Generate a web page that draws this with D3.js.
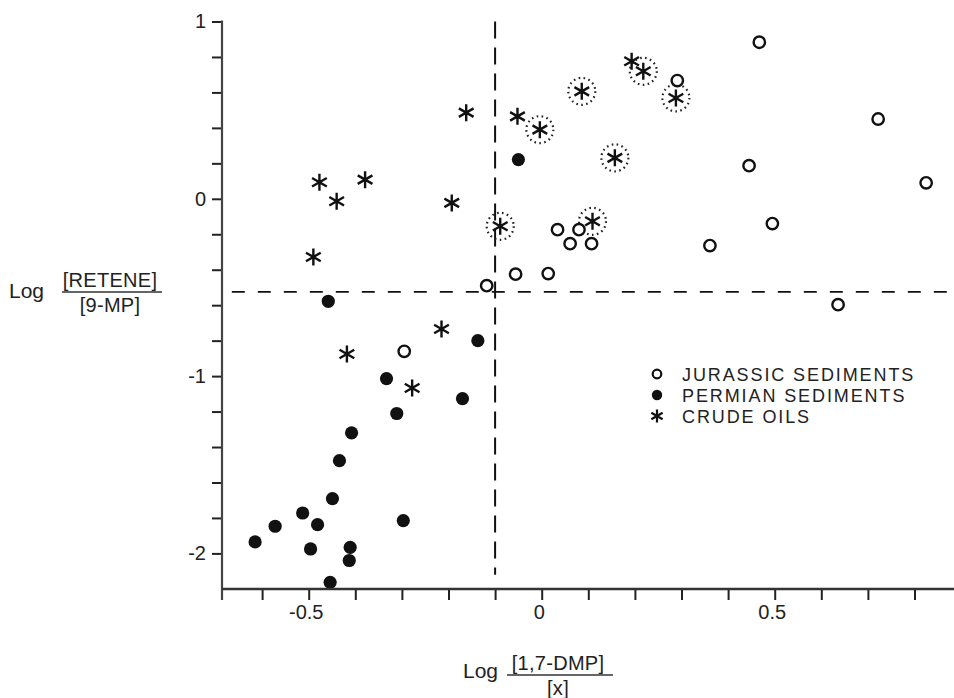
<!DOCTYPE html>
<html>
<head>
<meta charset="utf-8">
<script src="https://cdn.jsdelivr.net/npm/d3@7"></script>
<style>
  html, body { margin: 0; padding: 0; background: #fff; }
  svg { display: block; }
  text { font-family: "Liberation Sans", Arial, Helvetica, sans-serif; fill: #222; }
</style>
</head>
<body>
<script>
// Log[1,7-DMP]/[x] versus Log[RETENE]/[9-MP]
const jurassicSediments = [
  [-0.118, -0.49], [-0.056, -0.425], [0.014, -0.422], [0.034, -0.174],
  [0.061, -0.253], [0.080, -0.174], [0.107, -0.253], [0.291, 0.667],
  [0.467, 0.883], [0.722, 0.45], [0.445, 0.187], [0.825, 0.09],
  [0.495, -0.14], [0.361, -0.264], [0.636, -0.597], [-0.295, -0.86]
];
const permianSediments = [
  [-0.05, 0.221], [-0.458, -0.578], [-0.137, -0.80], [-0.333, -1.014],
  [-0.17, -1.127], [-0.311, -1.211], [-0.408, -1.32], [-0.434, -1.477],
  [-0.449, -1.691], [-0.513, -1.772], [-0.572, -1.847], [-0.481, -1.838],
  [-0.297, -1.815], [-0.615, -1.935], [-0.496, -1.975], [-0.411, -1.966],
  [-0.413, -2.04], [-0.454, -2.163]
];
const crudeOils = [
  [-0.162, 0.486], [-0.052, 0.465], [-0.477, 0.093], [-0.379, 0.108],
  [-0.44, -0.014], [-0.193, -0.023], [-0.49, -0.328], [0.193, 0.776],
  [-0.215, -0.734], [-0.418, -0.875], [-0.278, -1.067]
];
// crude oils drawn with a dotted ring
const crudeOilsRinged = [
  [-0.004, 0.39], [-0.089, -0.155], [0.086, 0.606], [0.218, 0.719],
  [0.288, 0.569], [0.157, 0.231], [0.109, -0.127]
];
const xTicks = [-0.6, -0.5, -0.4, -0.3, -0.2, -0.1, 0, 0.1, 0.2, 0.3, 0.4, 0.5, 0.6, 0.7, 0.8];
const xTickLabels = { "-0.5": "-0.5", "0": "0", "0.5": "0.5" };
const yTicks = [-2, -1.8, -1.6, -1.4, -1.2, -1, -0.8, -0.6, -0.4, -0.2, 0, 0.2, 0.4, 0.6, 0.8, 1];
const yTickLabels = { "-2": "-2", "-1": "-1", "0": "0", "1": "1" };
const cutoffX = -0.1;
const cutoffY = -0.525;
const legendItems = ["JURASSIC SEDIMENTS", "PERMIAN SEDIMENTS", "CRUDE OILS"];

const W = 954, H = 698;
const svg = d3.select("body").append("svg").attr("width", W).attr("height", H);

const x = d3.scaleLinear().domain([-0.6, 0.8]).range([262.1, 914.5]);
const y = d3.scaleLinear().domain([-2, 1]).range([553.4, 21.5]);

const axisLeftX = 222, axisBottomY = 589;
const fmt = v => String(Math.round(v * 10) / 10);

// y axis
const gy = svg.append("g").attr("transform", `translate(${axisLeftX},0)`)
  .call(d3.axisLeft(y).tickValues(yTicks).tickSize(10).tickPadding(6)
    .tickFormat(v => yTickLabels[fmt(v)] || ""));
gy.select(".domain").remove();
gy.selectAll(".tick line").attr("stroke", "#222").attr("stroke-width", 2);
gy.selectAll(".tick text").style("font-size", "20px").attr("fill", "#333");

// x axis
const gx = svg.append("g").attr("transform", `translate(0,${axisBottomY})`)
  .call(d3.axisBottom(x).tickValues(xTicks).tickSize(11).tickPadding(5)
    .tickFormat(v => xTickLabels[fmt(v)] || ""));
gx.select(".domain").remove();
gx.selectAll(".tick line").attr("stroke", "#222").attr("stroke-width", 2);
gx.selectAll(".tick text").style("font-size", "20px").attr("fill", "#333").attr("dx", "-3");

// cutoff lines
svg.append("line")
  .attr("x1", x(cutoffX)).attr("x2", x(cutoffX))
  .attr("y1", y(1)).attr("y2", y(-2.12))
  .attr("stroke", "#111").attr("stroke-width", 2)
  .attr("stroke-dasharray", "17,9");
svg.append("line")
  .attr("x1", x(-0.665)).attr("x2", W)
  .attr("y1", y(cutoffY)).attr("y2", y(cutoffY))
  .attr("stroke", "#111").attr("stroke-width", 1.8)
  .attr("stroke-dasharray", "13,13");

// asterisk path generator
function asterisk(r) {
  let p = "";
  [90, 30, 150].forEach(a => {
    const t = a * Math.PI / 180;
    const dx = r * Math.cos(t), dy = r * Math.sin(t);
    p += `M${-dx},${dy}L${dx},${-dy}`;
  });
  return p;
}

// marks
svg.append("g").selectAll("circle").data(crudeOilsRinged).join("circle")
  .attr("cx", d => x(d[0])).attr("cy", d => y(d[1])).attr("r", 13.5)
  .attr("fill", "none").attr("stroke", "#222").attr("stroke-width", 2.2)
  .attr("stroke-dasharray", "1.6,3.4");

svg.append("g").selectAll("path").data(crudeOils.concat(crudeOilsRinged)).join("path")
  .attr("transform", d => `translate(${x(d[0])},${y(d[1])})`)
  .attr("d", asterisk(8.5))
  .attr("stroke", "#111").attr("stroke-width", 2.4).attr("fill", "none");

svg.append("g").selectAll("circle").data(jurassicSediments).join("circle")
  .attr("cx", d => x(d[0])).attr("cy", d => y(d[1])).attr("r", 5.7)
  .attr("fill", "#fff").attr("stroke", "#111").attr("stroke-width", 2.4);

svg.append("g").selectAll("circle").data(permianSediments).join("circle")
  .attr("cx", d => x(d[0])).attr("cy", d => y(d[1])).attr("r", 6.6)
  .attr("fill", "#111");

// axis lines
svg.append("line").attr("x1", axisLeftX).attr("x2", axisLeftX)
  .attr("y1", y(1) - 1).attr("y2", 600)
  .attr("stroke", "#444").attr("stroke-width", 2.2);
svg.append("line").attr("x1", axisLeftX).attr("x2", W)
  .attr("y1", axisBottomY).attr("y2", axisBottomY)
  .attr("stroke", "#333").attr("stroke-width", 2.4);

// axis titles (fractions)
function fractionTitle(g, cx, barY, barX1, barX2, num, den, logX, logY) {
  g.append("text").attr("x", logX).attr("y", logY).style("font-size", "21px").text("Log");
  g.append("line").attr("x1", barX1).attr("x2", barX2).attr("y1", barY).attr("y2", barY)
    .attr("stroke", "#333").attr("stroke-width", 1.3);
  g.append("text").attr("x", cx).attr("y", barY - 5).attr("text-anchor", "middle")
    .style("font-size", "20px").style("letter-spacing", "0.3px").text(num);
  g.append("text").attr("x", cx).attr("y", barY + 20).attr("text-anchor", "middle")
    .style("font-size", "20px").style("letter-spacing", "0.3px").text(den);
}
fractionTitle(svg.append("g"), 110, 292, 62, 162, "[RETENE]", "[9-MP]", 9, 298);
fractionTitle(svg.append("g"), 558, 675, 507, 613, "[1,7-DMP]", "[x]", 463, 678);

// legend
const lg = svg.append("g");
const legendX = 657, textX = 682, rowY = [374, 395, 416];
lg.append("circle").attr("cx", legendX).attr("cy", rowY[0]).attr("r", 4.3)
  .attr("fill", "none").attr("stroke", "#111").attr("stroke-width", 2.2);
lg.append("circle").attr("cx", legendX).attr("cy", rowY[1]).attr("r", 5.2)
  .attr("fill", "#111");
lg.append("path").attr("transform", `translate(${legendX},${rowY[2]})`)
  .attr("d", asterisk(6.5)).attr("stroke", "#111").attr("stroke-width", 2.2);
lg.selectAll("text").data(legendItems).join("text")
  .attr("x", textX).attr("y", (d, i) => rowY[i] + 6.5)
  .style("font-size", "18px").style("letter-spacing", "1.9px")
  .text(d => d);
</script>
</body>
</html>
